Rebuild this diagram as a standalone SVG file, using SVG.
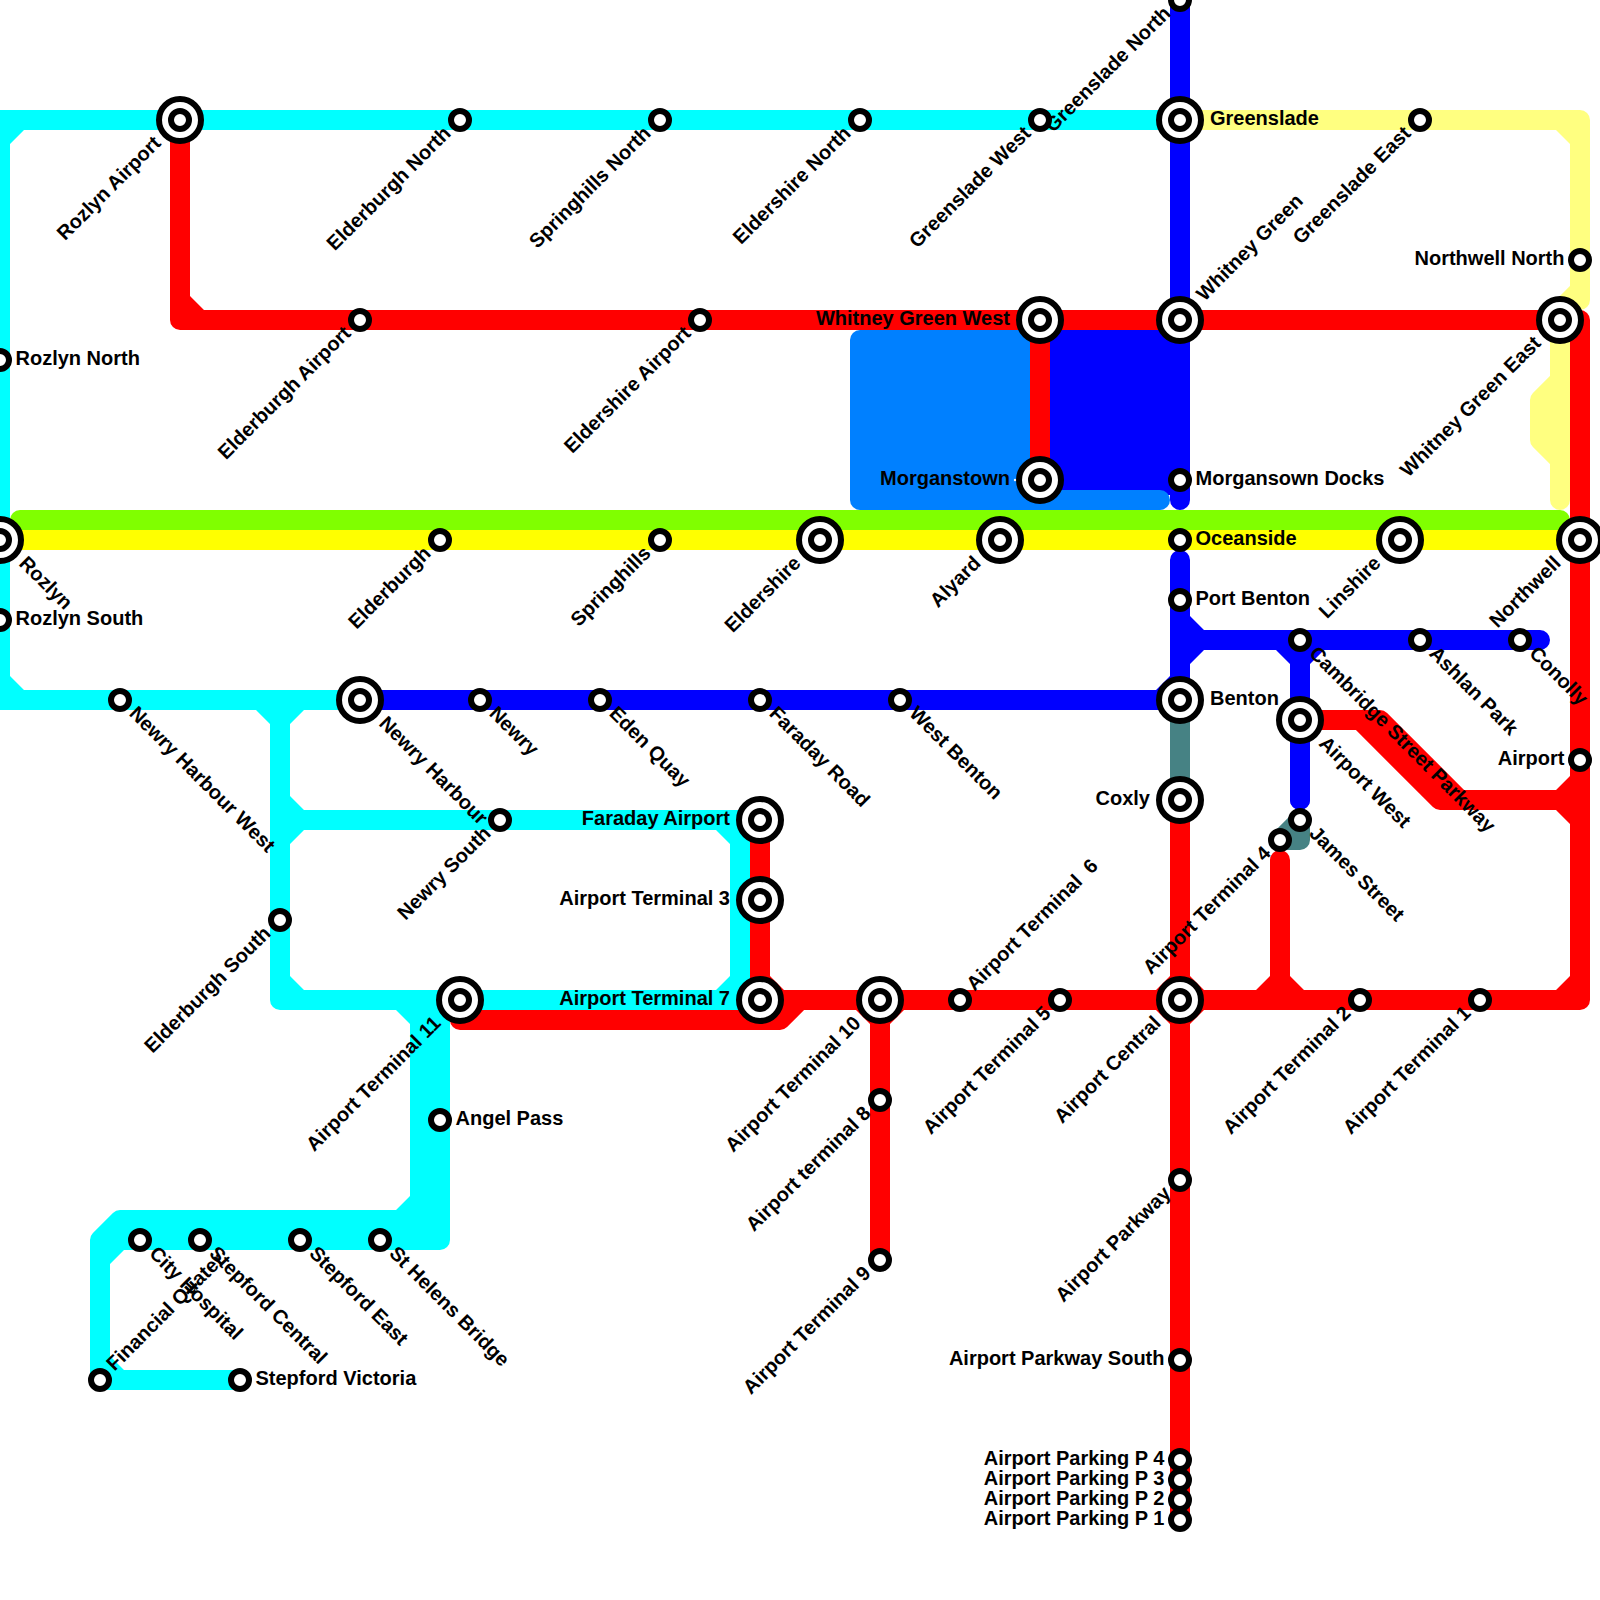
<svg xmlns="http://www.w3.org/2000/svg" width="1600" height="1600" viewBox="0 0 1600 1600">
<style>
.l{fill:none;stroke-width:20;stroke-linejoin:round;stroke-linecap:round}
.cy{stroke:#00ffff}.cyf{fill:#00ffff}
.rd{stroke:#ff0000}.rdf{fill:#ff0000}
.bl{stroke:#0000ff}.blf{fill:#0000ff}
.lb{stroke:#0080ff}.lbf{fill:#0080ff}
.gn{stroke:#80ff00}.ye{stroke:#ffff00}
.py{stroke:#ffff80}.pyf{fill:#ffff80}
.te{stroke:#468284}
.ring{fill:#fff;stroke:#000;stroke-width:6}
text{font-family:"Liberation Sans",Arial,sans-serif;font-weight:700;font-size:20px;fill:#000;white-space:pre}
.e{text-anchor:end}
</style>
<defs>
<g id="s"><circle class="ring" r="9"/></g>
<g id="i"><circle class="ring" r="21"/><circle class="ring" r="9"/></g>
</defs>
<g id="connectors">
<path class="l py" d="M1180 120H1580V300M1580 290L1560 310V500M1560 380L1540 400V440L1560 460"/>
<path class="pyf" d="M1570 130H1556L1570 144Z"/>
<path class="l cy" d="M360 700H0V120H1180M280 700V1000H760M280 820H740V1000M420 1000V1220H120L100 1240V1380H240M440 1000V1240H100"/>
<path class="cyf" d="M10 130V144L24 130ZM10 690V676L24 690ZM270 710H256L270 724ZM290 710H304L290 724ZM290 810V796L304 810ZM290 830H304L290 844ZM290 990V976L304 990ZM730 830H716L730 844ZM730 990H716L730 976ZM410 1010H396L410 1024ZM410 1210H396L410 1196ZM110 1250V1264L124 1250ZM110 1370V1356L124 1370ZM410 1210H440V1240H410Z"/>
<path class="blf" d="M1050 320H1190V495H1050Z"/>
<path class="l bl" d="M1180 0V500M1180 560V700H360M1180 640H1540M1300 640V800"/>
<path class="blf" d="M1170 690H1156L1170 676ZM1190 630V616L1204 630ZM1190 650H1204L1190 664ZM1290 650H1276L1290 664ZM1310 650H1324L1310 664Z"/>
<rect class="lbf" x="850" y="330" width="200" height="180" rx="10"/>
<path class="l lb" d="M1040 500H1160"/>
<path class="l te" d="M1180 700V800M1300 820V840H1280L1300 820"/>
<path class="l bl" d="M1300 720V800"/>
<path class="l rd" d="M180 120V320H1580V1000H1180M1040 320V480M760 820V1000H1180M460 1020H780L800 1000M880 1000V1260M1180 800V1520M1280 860V1000M1300 720H1380L1460 800H1580M1360 720L1440 800H1580"/>
<path class="rdf" d="M190 310V296L204 310ZM770 990V976L784 990ZM870 1010H856L870 1024ZM890 1010H904L890 1024ZM1170 990V976L1156 990ZM1190 990V976L1204 990ZM1170 1010H1156L1170 1024ZM1190 1010H1204L1190 1024ZM1270 990V976L1256 990ZM1290 990V976L1304 990ZM1570 790H1556L1570 776ZM1570 810H1556L1570 824ZM1570 990V976L1556 990Z"/>
<path class="l gn" d="M20 520H1560"/>
<path class="l ye" d="M0 540H1580"/>
</g>
<g id="n1"><use href="#i" x="180" y="120"/><text transform="translate(180 120) rotate(-45)" class="e" x="-30" y="4.5">Rozlyn Airport</text></g>
<g id="n2"><use href="#s" x="460" y="120"/><text transform="translate(460 120) rotate(-45)" class="e" x="-16" y="4.5">Elderburgh North</text></g>
<g id="n3"><use href="#s" x="660" y="120"/><text transform="translate(660 120) rotate(-45)" class="e" x="-16" y="4.5">Springhills North</text></g>
<g id="n4"><use href="#s" x="860" y="120"/><text transform="translate(860 120) rotate(-45)" class="e" x="-16" y="4.5">Eldershire North</text></g>
<g id="n5"><use href="#s" x="1040" y="120"/><text transform="translate(1040 120) rotate(-45)" class="e" x="-16" y="4.5">Greenslade West</text></g>
<g id="n6"><use href="#i" x="1180" y="120"/><text x="1210" y="124.5">Greenslade</text></g>
<g id="n7"><use href="#s" x="1180" y="0"/><text transform="translate(1180 0) rotate(-45)" class="e" x="-16" y="4.5">Greenslade North</text></g>
<g id="n8"><use href="#s" x="1420" y="120"/><text transform="translate(1420 120) rotate(-45)" class="e" x="-16" y="4.5">Greenslade East</text></g>
<g id="n9"><use href="#s" x="1580" y="260"/><text class="e" x="1564.5" y="264.5">Northwell North</text></g>
<g id="n10"><use href="#i" x="1040" y="320"/><text class="e" x="1010" y="324.5">Whitney Green West</text></g>
<g id="n11"><use href="#i" x="1180" y="320"/><text transform="translate(1180 320) rotate(-45)" x="30" y="4.5">Whitney Green</text></g>
<g id="n12"><use href="#i" x="1560" y="320"/><text transform="translate(1560 320) rotate(-45)" class="e" x="-30" y="4.5">Whitney Green East</text></g>
<g id="n13"><use href="#s" x="360" y="320"/><text transform="translate(360 320) rotate(-45)" class="e" x="-16" y="4.5">Elderburgh Airport</text></g>
<g id="n14"><use href="#s" x="700" y="320"/><text transform="translate(700 320) rotate(-45)" class="e" x="-16" y="4.5">Eldershire Airport</text></g>
<g id="n15"><use href="#i" x="1040" y="480"/><circle cx="1015" cy="480" r="1.2" fill="#fff"/><text class="e" x="1010" y="484.5">Morganstown</text></g>
<g id="n16"><use href="#s" x="1180" y="480"/><text x="1195.5" y="484.5">Morgansown Docks</text></g>
<g id="n17"><use href="#s" x="0" y="360"/><text x="15.5" y="364.5">Rozlyn North</text></g>
<g id="n18"><use href="#i" x="0" y="540"/><text transform="translate(0 540) rotate(45)" x="30" y="4.5">Rozlyn</text></g>
<g id="n19"><use href="#s" x="440" y="540"/><text transform="translate(440 540) rotate(-45)" class="e" x="-16" y="4.5">Elderburgh</text></g>
<g id="n20"><use href="#s" x="660" y="540"/><text transform="translate(660 540) rotate(-45)" class="e" x="-16" y="4.5">Springhills</text></g>
<g id="n21"><use href="#i" x="820" y="540"/><text transform="translate(820 540) rotate(-45)" class="e" x="-30" y="4.5">Eldershire</text></g>
<g id="n22"><use href="#i" x="1000" y="540"/><text transform="translate(1000 540) rotate(-45)" class="e" x="-30" y="4.5">Alyard</text></g>
<g id="n23"><use href="#s" x="1180" y="540"/><text x="1195.5" y="544.5">Oceanside</text></g>
<g id="n24"><use href="#i" x="1400" y="540"/><text transform="translate(1400 540) rotate(-45)" class="e" x="-30" y="4.5">Linshire</text></g>
<g id="n25"><use href="#i" x="1580" y="540"/><text transform="translate(1580 540) rotate(-45)" class="e" x="-30" y="4.5">Northwell</text></g>
<g id="n26"><use href="#s" x="0" y="620"/><text x="15.5" y="624.5">Rozlyn South</text></g>
<g id="n27"><use href="#s" x="1180" y="600"/><text x="1195.5" y="604.5">Port Benton</text></g>
<g id="n28"><use href="#s" x="1300" y="640"/><text transform="translate(1300 640) rotate(45)" x="16" y="4.5">Cambridge Street Parkway</text></g>
<g id="n29"><use href="#s" x="1420" y="640"/><text transform="translate(1420 640) rotate(45)" x="16" y="4.5">Ashlan Park</text></g>
<g id="n30"><use href="#s" x="1520" y="640"/><text transform="translate(1520 640) rotate(45)" x="16" y="4.5">Conolly</text></g>
<g id="n31"><use href="#i" x="1180" y="700"/><text x="1210" y="704.5">Benton</text></g>
<g id="n32"><use href="#i" x="1300" y="720"/><text transform="translate(1300 720) rotate(45)" x="30" y="4.5">Airport West</text></g>
<g id="n33"><use href="#s" x="120" y="700"/><text transform="translate(120 700) rotate(45)" x="16" y="4.5">Newry Harbour West</text></g>
<g id="n34"><use href="#i" x="360" y="700"/><text transform="translate(360 700) rotate(45)" x="30" y="4.5">Newry Harbour</text></g>
<g id="n35"><use href="#s" x="480" y="700"/><text transform="translate(480 700) rotate(45)" x="16" y="4.5">Newry</text></g>
<g id="n36"><use href="#s" x="600" y="700"/><text transform="translate(600 700) rotate(45)" x="16" y="4.5">Eden Quay</text></g>
<g id="n37"><use href="#s" x="760" y="700"/><text transform="translate(760 700) rotate(45)" x="16" y="4.5">Faraday Road</text></g>
<g id="n38"><use href="#s" x="900" y="700"/><text transform="translate(900 700) rotate(45)" x="16" y="4.5">West Benton</text></g>
<g id="n39"><use href="#s" x="500" y="820"/><text transform="translate(500 820) rotate(-45)" class="e" x="-16" y="4.5">Newry South</text></g>
<g id="n40"><use href="#i" x="760" y="820"/><text class="e" x="730" y="824.5">Faraday Airport</text></g>
<g id="n41"><use href="#i" x="760" y="900"/><text class="e" x="730" y="904.5">Airport Terminal 3</text></g>
<g id="n42"><use href="#i" x="760" y="1000"/><text class="e" x="730" y="1004.5">Airport Terminal 7</text></g>
<g id="n43"><use href="#i" x="460" y="1000"/><text transform="translate(460 1000) rotate(-45)" class="e" x="-30" y="4.5">Airport Terminal 11</text></g>
<g id="n44"><use href="#s" x="280" y="920"/><text transform="translate(280 920) rotate(-45)" class="e" x="-16" y="4.5">Elderburgh South</text></g>
<g id="n45"><use href="#i" x="1180" y="800"/><text class="e" x="1150" y="804.5">Coxly</text></g>
<g id="n46"><use href="#s" x="1580" y="760"/><text class="e" x="1564.5" y="764.5">Airport</text></g>
<g id="n47"><use href="#s" x="1300" y="820"/><text transform="translate(1300 820) rotate(45)" x="16" y="4.5">James Street</text></g>
<g id="n48"><use href="#s" x="1280" y="840"/><text transform="translate(1280 840) rotate(-45)" class="e" x="-16" y="4.5">Airport Terminal 4</text></g>
<g id="n49"><use href="#i" x="880" y="1000"/><text transform="translate(880 1000) rotate(-45)" class="e" x="-30" y="4.5">Airport Terminal 10</text></g>
<g id="n50"><use href="#s" x="960" y="1000"/><text transform="translate(960 1000) rotate(-45)" x="16" y="4.5">Airport Terminal  6</text></g>
<g id="n51"><use href="#s" x="1060" y="1000"/><text transform="translate(1060 1000) rotate(-45)" class="e" x="-16" y="4.5">Airport Terminal 5</text></g>
<g id="n52"><use href="#i" x="1180" y="1000"/><text transform="translate(1180 1000) rotate(-45)" class="e" x="-30" y="4.5">Airport Central</text></g>
<g id="n53"><use href="#s" x="1360" y="1000"/><text transform="translate(1360 1000) rotate(-45)" class="e" x="-16" y="4.5">Airport Terminal 2</text></g>
<g id="n54"><use href="#s" x="1480" y="1000"/><text transform="translate(1480 1000) rotate(-45)" class="e" x="-16" y="4.5">Airport Terminal 1</text></g>
<g id="n55"><use href="#s" x="880" y="1100"/><text transform="translate(880 1100) rotate(-45)" class="e" x="-16" y="4.5">Airport terminal 8</text></g>
<g id="n56"><use href="#s" x="880" y="1260"/><text transform="translate(880 1260) rotate(-45)" class="e" x="-16" y="4.5">Airport Terminal 9</text></g>
<g id="n57"><use href="#s" x="1180" y="1180"/><text transform="translate(1180 1180) rotate(-45)" class="e" x="-16" y="4.5">Airport Parkway</text></g>
<g id="n58"><use href="#s" x="1180" y="1360"/><text class="e" x="1164.5" y="1364.5">Airport Parkway South</text></g>
<g id="n59"><use href="#s" x="1180" y="1460"/><text class="e" x="1164.5" y="1464.5">Airport Parking P 4</text></g>
<g id="n60"><use href="#s" x="1180" y="1480"/><text class="e" x="1164.5" y="1484.5">Airport Parking P 3</text></g>
<g id="n61"><use href="#s" x="1180" y="1500"/><text class="e" x="1164.5" y="1504.5">Airport Parking P 2</text></g>
<g id="n62"><use href="#s" x="1180" y="1520"/><text class="e" x="1164.5" y="1524.5">Airport Parking P 1</text></g>
<g id="n63"><use href="#s" x="440" y="1120"/><text x="455.5" y="1124.5">Angel Pass</text></g>
<g id="n64"><use href="#s" x="140" y="1240"/><text transform="translate(140 1240) rotate(45)" x="16" y="4.5">City Hospital</text></g>
<g id="n65"><use href="#s" x="200" y="1240"/><text transform="translate(200 1240) rotate(45)" x="16" y="4.5">Stepford Central</text></g>
<g id="n66"><use href="#s" x="300" y="1240"/><text transform="translate(300 1240) rotate(45)" x="16" y="4.5">Stepford East</text></g>
<g id="n67"><use href="#s" x="380" y="1240"/><text transform="translate(380 1240) rotate(45)" x="16" y="4.5">St Helens Bridge</text></g>
<g id="n68"><use href="#s" x="100" y="1380"/><text transform="translate(100 1380) rotate(-45)" x="16" y="4.5">Financial Quater</text></g>
<g id="n69"><use href="#s" x="240" y="1380"/><text x="255.5" y="1384.5">Stepford Victoria</text></g>
</svg>
